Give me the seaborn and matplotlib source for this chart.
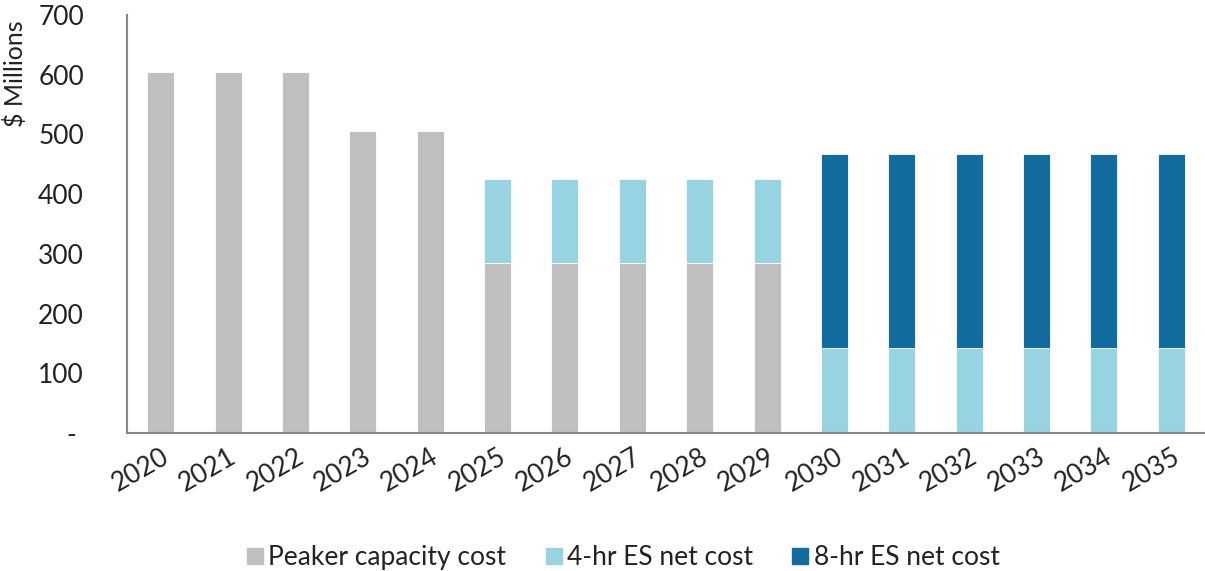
import matplotlib
matplotlib.use("Agg")
import matplotlib.pyplot as plt
from matplotlib.lines import Line2D
import seaborn as sns
import pandas as pd

years = [str(y) for y in range(2020, 2036)]
peaker = [605, 605, 605, 505, 505, 284, 284, 284, 284, 284, 0, 0, 0, 0, 0, 0]
es4 = [0, 0, 0, 0, 0, 142, 142, 142, 142, 142, 142, 142, 142, 142, 142, 142]
es8 = [0, 0, 0, 0, 0, 0, 0, 0, 0, 0, 326, 326, 326, 326, 326, 326]
labels = ["Peaker capacity cost", "4-hr ES net cost", "8-hr ES net cost"]
colors = ["#BFBFBF", "#97D3E0", "#126CA0"]
yticks = [0, 100, 200, 300, 400, 500, 600, 700]
yticklabels = ["- ", "100", "200", "300", "400", "500", "600", "700"]

df = pd.DataFrame({"year": years, "peaker": peaker, "es4": es4, "es8": es8})
df["lvl1"] = df["peaker"]
df["lvl2"] = df["peaker"] + df["es4"]
df["lvl3"] = df["lvl2"] + df["es8"]

sns.set_theme(style="white")
plt.rcParams["font.family"] = ["Lato", "DejaVu Sans"]

TXT = "#222222"
FS = 19

fig = plt.figure(figsize=(12.05, 5.71), dpi=100)
ax = fig.add_axes([0.1054, 0.2417, 0.8946, 0.732])

for col, c in zip(["lvl3", "lvl2", "lvl1"], colors[::-1]):
    sns.barplot(data=df, x="year", y=col, color=c, width=0.4, ax=ax,
                edgecolor="white", linewidth=0.6, saturation=1, errorbar=None)

ax.set_xlim(-0.5, 15.5)
ax.set_ylim(0, 700)
ax.set_yticks(yticks)
ax.set_yticklabels(yticklabels, fontsize=FS, color=TXT)
ax.set_xlabel("")
ax.set_ylabel("$ Millions", fontsize=FS - 1, color=TXT)
ax.yaxis.set_label_coords(-0.093, 0.86)
ax.tick_params(axis="y", length=0, pad=31)
ax.tick_params(axis="x", length=0, pad=8)
ax.set_xticks(range(len(years)))
ax.set_xticklabels(years, rotation=30, ha="right", rotation_mode="anchor",
                   fontsize=FS, color=TXT)
for s in ["top", "right"]:
    ax.spines[s].set_visible(False)
for s in ["left", "bottom"]:
    ax.spines[s].set_color("#888888")
    ax.spines[s].set_linewidth(1.5)

handles = [Line2D([0], [0], marker="s", linestyle="", markersize=12,
                  markerfacecolor=c, markeredgecolor=c) for c in colors]
fig.legend(handles, labels, loc="lower center", ncol=3, frameon=False,
           fontsize=FS, bbox_to_anchor=(0.514, -0.04), handletextpad=-0.1,
           handlelength=1.2, columnspacing=1.2, labelcolor=TXT)

fig.savefig("out.png", dpi=100)
